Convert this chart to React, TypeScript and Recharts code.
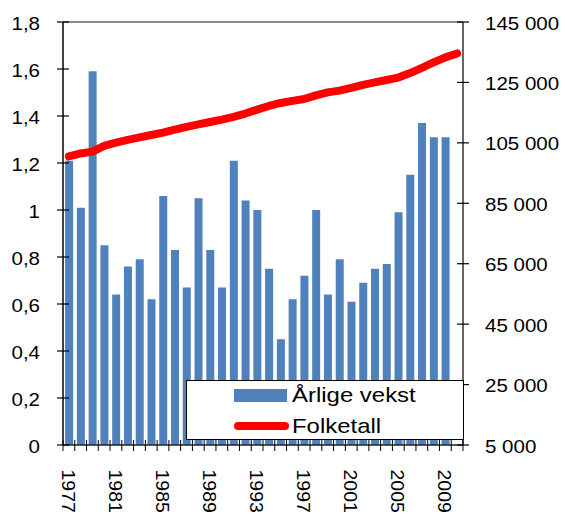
import { Bar, ComposedChart, Line, ReferenceLine, XAxis, YAxis } from 'recharts';

const years = [
  '1977', '1978', '1979', '1980', '1981', '1982', '1983', '1984', '1985', '1986', '1987', '1988',
  '1989', '1990', '1991', '1992', '1993', '1994', '1995', '1996', '1997', '1998', '1999', '2000',
  '2001', '2002', '2003', '2004', '2005', '2006', '2007', '2008', '2009', '2010',
];

// Årlige vekst (%), left axis
const growth = [
  1.21, 1.01, 1.59, 0.85, 0.64, 0.76, 0.79, 0.62, 1.06, 0.83, 0.67, 1.05,
  0.83, 0.67, 1.21, 1.04, 1.0, 0.75, 0.45, 0.62, 0.72, 1.0, 0.64, 0.79,
  0.61, 0.69, 0.75, 0.77, 0.99, 1.15, 1.37, 1.31, 1.31, null,
];

// Folketall, right axis
const population = [
  100500, 101500, 102100, 104000, 105100, 106000, 106800, 107600, 108400, 109400, 110300, 111100,
  111900, 112700, 113600, 114700, 116000, 117200, 118200, 118900, 119500, 120700, 121700, 122300,
  123200, 124200, 125000, 125800, 126600, 128100, 129800, 131600, 133300, 134600,
];

const leftTicks = [0, 0.2, 0.4, 0.6, 0.8, 1, 1.2, 1.4, 1.6, 1.8];
const rightTicks = [5000, 25000, 45000, 65000, 85000, 105000, 125000, 145000];
const labelYears = ['1977', '1981', '1985', '1989', '1993', '1997', '2001', '2005', '2009'];

const rows = years.map((year, i) => ({ year, growth: growth[i], population: population[i] }));

const FONT = '"Liberation Sans", Arial, sans-serif';
const STRETCH = 1.14;
const BAND = 400 / years.length;

function LeftTick({ x, y, payload }: any) {
  const label = String(payload.value).replace('.', ',');
  return (
    <g>
      <line x1={x + 17} x2={x + 29} y1={y} y2={y} stroke="#000" strokeWidth={1.2} />
      <g transform={`translate(${x},${y + 2})`}>
        <text transform={`scale(${STRETCH},1)`} textAnchor="end" dominantBaseline="central" fontSize={18} fontFamily={FONT} fill="#000">
          {label}
        </text>
      </g>
    </g>
  );
}

function RightTick({ x, y, payload }: any) {
  const label = Number(payload.value).toLocaleString('en-US').replace(/,/g, ' ');
  return (
    <g>
      <line x1={x - 28} x2={x - 16} y1={y} y2={y} stroke="#000" strokeWidth={1.2} />
      <g transform={`translate(${x},${y + 1.5})`}>
        <text transform={`scale(${STRETCH},1)`} textAnchor="start" dominantBaseline="central" fontSize={18} fontFamily={FONT} fill="#000">
          {label}
        </text>
      </g>
    </g>
  );
}

function BottomTick({ x, y, payload, index }: any) {
  const axisY = y - 24;
  const show = labelYears.includes(payload.value);
  return (
    <g>
      <line x1={x - BAND / 2} x2={x - BAND / 2} y1={axisY - 5} y2={axisY + 6} stroke="#000" strokeWidth={1} />
      {index === years.length - 1 && (
        <line x1={x + BAND / 2} x2={x + BAND / 2} y1={axisY - 5} y2={axisY + 6} stroke="#000" strokeWidth={1} />
      )}
      {show && (
        <g transform={`translate(${x - 1},${y + 0.5})`}>
          <text transform="rotate(90) scale(1,0.9)" textAnchor="start" dominantBaseline="central" fontSize={19.5} fontFamily={FONT} fill="#000">
            {payload.value}
          </text>
        </g>
      )}
    </g>
  );
}

export default function App() {
  return (
    <div style={{ position: 'absolute', left: 0, top: 0, width: 565, height: 514, background: '#fff' }}>
      <ComposedChart width={565} height={514} data={rows} margin={{ top: 22, right: 0, bottom: 0, left: 0 }} barCategoryGap="18%">
        <XAxis
          dataKey="year"
          height={69}
          interval={0}
          tickSize={6}
          tickMargin={18}
          tickLine={false}
          axisLine={{ stroke: '#222', strokeWidth: 1.5 }}
          tick={<BottomTick />}
        />
        <YAxis
          yAxisId="left"
          width={63}
          domain={[0, 1.8]}
          ticks={leftTicks}
          tickSize={6}
          tickMargin={17}
          tickLine={false}
          axisLine={{ stroke: '#000', strokeWidth: 1.5 }}
          tick={<LeftTick />}
        />
        <YAxis
          yAxisId="right"
          orientation="right"
          width={102}
          domain={[5000, 145000]}
          ticks={rightTicks}
          tickSize={6}
          tickMargin={16}
          tickLine={false}
          axisLine={{ stroke: '#333', strokeWidth: 1.5 }}
          tick={<RightTick />}
        />
        <ReferenceLine yAxisId="left" y={1.8} stroke="#8a8a8a" strokeWidth={2} />
        <Bar yAxisId="left" dataKey="growth" fill="#4f81bd" isAnimationActive={false} />
        <Line
          yAxisId="right"
          dataKey="population"
          type="linear"
          stroke="#ff0000"
          strokeWidth={8}
          strokeLinecap="round"
          strokeLinejoin="round"
          dot={false}
          activeDot={false}
          isAnimationActive={false}
        />
      </ComposedChart>
      <div
        style={{
          position: 'absolute',
          left: 186,
          top: 380,
          width: 278,
          height: 60,
          background: '#fff',
          border: '1px solid #000',
          boxSizing: 'border-box',
          fontFamily: FONT,
          fontSize: 21,
          color: '#000',
        }}
      >
        <div style={{ position: 'absolute', left: 47, top: 8, width: 53, height: 13, background: '#4f81bd' }} />
        <div style={{ position: 'absolute', left: 105, top: 1, lineHeight: '26px', transform: `scaleX(${STRETCH})`, transformOrigin: 'left center', whiteSpace: 'nowrap' }}>
          Årlige vekst
        </div>
        <div style={{ position: 'absolute', left: 47, top: 41, width: 55, height: 8, borderRadius: 4, background: '#ff0000' }} />
        <div style={{ position: 'absolute', left: 105, top: 32, lineHeight: '26px', transform: `scaleX(${STRETCH})`, transformOrigin: 'left center', whiteSpace: 'nowrap' }}>
          Folketall
        </div>
      </div>
    </div>
  );
}
